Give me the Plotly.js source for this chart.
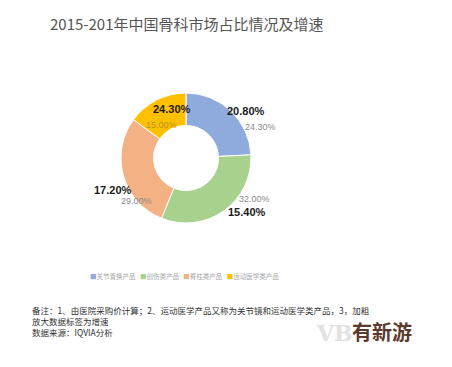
<!DOCTYPE html>
<html><head><meta charset="utf-8">
<script src="https://cdn.plot.ly/plotly-3.0.1.min.js"></script>
<style>html,body{margin:0;padding:0;background:#fff}#chart{width:452px;height:367px}</style>
</head><body><div id="chart"></div>
<script>
// ---- data ----
var categories = ['关节置换产品', '创伤类产品', '脊柱类产品', '运动医学类产品'];
var shareValues = [24.30, 32.00, 29.00, 15.00];   // 占比 (%)
var growthValues = [20.80, 15.40, 17.20, 24.30];  // 增速 (%), bold labels
var titleText = '2015-201年中国骨科市场占比情况及增速';
var noteLines = ['备注：1、由医院采购价计算；2、运动医学产品又称为关节镜和运动医学类产品，3，加粗',
                 '放大数据标签为增速',
                 '数据来源：IQVIA分析'];

// ---- styles ----
var colors = ['#8FAADC', '#A9D18E', '#F4B183', '#FFC000'];
var W = 452, H = 367;
var pie = {cx: 186, cy: 158, r: 65};
// label placement relative to slice mid-angle (degrees shift, radius px)
var shareLabelPos = [{da: 24, r: 81}, {da: -24, r: 80}, {da: -17, r: 80}, {da: -5, r: 47}];
var shareLabelColor = ['#8c8c8c', '#8c8c8c', '#8c8c8c', '#B8921C'];
var growthLabelPos = [{da: 4, r: 81}, {da: -13, r: 81}, {da: -3, r: 99}, {da: -5, r: 67}];

function px(x) { return x / W; }
function py(y) { return 1 - y / H; }

var total = shareValues.reduce(function (a, b) { return a + b; }, 0);
var annotations = [];
var cum = 0;
shareValues.forEach(function (v, i) {
  var mid = (cum + v / 2) / total * 360;
  cum += v;
  var a1 = (mid + shareLabelPos[i].da) * Math.PI / 180;
  annotations.push({
    x: px(pie.cx + shareLabelPos[i].r * Math.sin(a1)),
    y: py(pie.cy - shareLabelPos[i].r * Math.cos(a1)),
    xref: 'paper', yref: 'paper', showarrow: false,
    text: v.toFixed(2) + '%',
    font: {family: 'Liberation Sans, Arial', size: 9, color: shareLabelColor[i]}
  });
  var a2 = (mid + growthLabelPos[i].da) * Math.PI / 180;
  annotations.push({
    x: px(pie.cx + growthLabelPos[i].r * Math.sin(a2)),
    y: py(pie.cy - growthLabelPos[i].r * Math.cos(a2)),
    xref: 'paper', yref: 'paper', showarrow: false,
    text: '<b>' + growthValues[i].toFixed(2) + '%</b>',
    font: {family: 'Liberation Sans, Arial', size: 11, color: '#1a1a1a'}
  });
});

// legend row as text
var legendText = categories.map(function (c, i) {
  return '<span style="color:' + colors[i] + '">■</span>' + c;
}).join('   ');
annotations.push({
  x: px(88), y: py(276), xref: 'paper', yref: 'paper', xanchor: 'left', yanchor: 'middle',
  showarrow: false, text: legendText,
  font: {family: 'Noto Sans CJK SC', size: 6.5, color: '#a6a6a6'}
});

// notes
annotations.push({
  x: px(30), y: py(302), xref: 'paper', yref: 'paper', xanchor: 'left', yanchor: 'top',
  align: 'left', showarrow: false, text: noteLines.join('<br>'),
  font: {family: 'Noto Sans CJK SC', size: 8.5, color: '#333333'}
});

// watermark
annotations.push({
  x: px(355), y: py(348), xref: 'paper', yref: 'paper', showarrow: false,
  text: '<b>VB</b>', font: {family: 'DejaVu Serif', size: 22, color: '#e2e2e2'}
});
annotations.push({
  x: px(414), y: py(348), xref: 'paper', yref: 'paper', showarrow: false,
  text: '<b>有新游</b>', font: {family: 'Noto Sans CJK SC', size: 20, color: '#5a3a2c'}
});

var trace = {
  type: 'pie',
  labels: categories,
  values: shareValues,
  hole: 0.5,
  sort: false,
  direction: 'clockwise',
  rotation: 0,
  textinfo: 'none',
  hoverinfo: 'label+percent',
  marker: {colors: colors, line: {color: '#ffffff', width: 1}},
  domain: {x: [px(pie.cx - pie.r), px(pie.cx + pie.r)], y: [py(pie.cy + pie.r), py(pie.cy - pie.r)]},
  showlegend: false
};

var layout = {
  width: W, height: H,
  margin: {l: 0, r: 0, t: 0, b: 0},
  paper_bgcolor: '#ffffff',
  title: {
    text: titleText, x: px(50), xanchor: 'left', y: py(25), yanchor: 'middle',
    font: {family: 'Noto Sans CJK SC', size: 15, color: '#555555'}
  },
  annotations: annotations,
  showlegend: false
};

Plotly.newPlot('chart', [trace], layout, {displayModeBar: false, staticPlot: true});
</script></body></html>
